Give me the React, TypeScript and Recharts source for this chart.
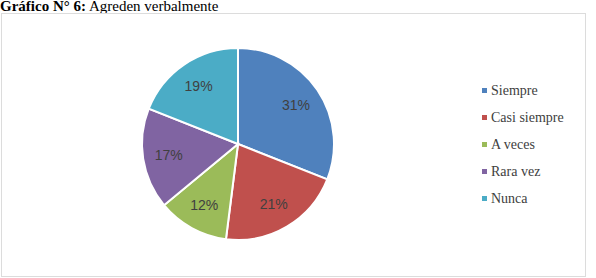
import { PieChart, Pie, Cell, Legend } from "recharts";

const categories = ["Siempre", "Casi siempre", "A veces", "Rara vez", "Nunca"];
const values = [31, 21, 12, 17, 19];
const colors = ["#4F81BD", "#C0504D", "#9BBB59", "#8064A2", "#4BACC6"];

const data = categories.map((name, i) => ({ name, value: values[i] }));

const RAD = Math.PI / 180;

const renderLabel = (props: any) => {
  const { cx, cy, midAngle, outerRadius, value } = props;
  const r = outerRadius * 0.73;
  const x = cx + r * Math.cos(-midAngle * RAD);
  const y = cy + r * Math.sin(-midAngle * RAD);
  return (
    <text
      x={x}
      y={y}
      fill="#404040"
      textAnchor="middle"
      dominantBaseline="central"
      style={{ fontFamily: "'Liberation Sans', Arial, sans-serif", fontSize: 14 }}
    >
      {`${value}%`}
    </text>
  );
};

const renderLegend = () => (
  <div style={{ fontFamily: "'Liberation Serif', 'Times New Roman', serif", fontSize: 14, color: "#404040" }}>
    {categories.map((c, i) => (
      <div key={c} style={{ display: "flex", alignItems: "center", height: 27 }}>
        <span style={{ width: 5, height: 5, background: colors[i], marginRight: 4, display: "inline-block" }} />
        <span>{c}</span>
      </div>
    ))}
  </div>
);

export default function App() {
  return (
    <div style={{ position: "absolute", left: 0, top: 0, width: 596, height: 278, background: "#fff", overflow: "hidden" }}>
      <div
        style={{
          position: "absolute",
          left: 0,
          top: -1,
          fontFamily: "'Liberation Serif', 'Times New Roman', serif",
          fontSize: 15,
          lineHeight: "15px",
          color: "#000",
          whiteSpace: "nowrap",
        }}
      >
        <b>Gráfico N° 6:</b> Agreden verbalmente
      </div>
      <div
        style={{
          position: "absolute",
          left: 1,
          top: 13,
          width: 583,
          height: 262,
          border: "1px solid #dcdcdc",
        }}
      />
      <div style={{ position: "absolute", left: 0, top: 0 }}>
        <PieChart width={596} height={278} margin={{ top: 0, right: 0, bottom: 0, left: 0 }}>
          <Pie
            data={data}
            dataKey="value"
            nameKey="name"
            cx={238}
            cy={144}
            outerRadius={96}
            startAngle={90}
            endAngle={-270}
            stroke="#fff"
            strokeWidth={2}
            label={renderLabel}
            labelLine={false}
            isAnimationActive={false}
          >
            {data.map((d, i) => (
              <Cell key={d.name} fill={colors[i]} />
            ))}
          </Pie>
          <Legend
            layout="vertical"
            align="right"
            verticalAlign="top"
            content={renderLegend}
            wrapperStyle={{ left: 482, top: 77, width: 110 }}
          />
        </PieChart>
      </div>
    </div>
  );
}
